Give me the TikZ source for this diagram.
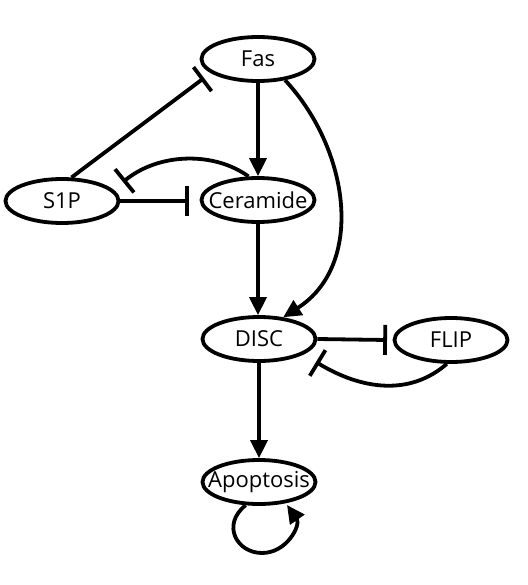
\documentclass[tikz,border=0pt]{standalone}
\usepackage{fontspec}
\setmainfont{Open Sans}
\usetikzlibrary{arrows.meta,shapes.geometric}
\begin{document}
\begin{tikzpicture}[x=1pt,y=-1pt,
  gene/.style={ellipse, draw, line width=3.8pt, minimum width=113pt, minimum height=44pt, inner sep=0pt,
    label={[font=\fontsize{22}{24}\selectfont, inner sep=0pt]center:#1}},
  edge/.style={line width=3.8pt},
  act/.style={edge, -{Triangle[length=18pt,width=17pt]}},
  inh/.style={edge, -{Bar[width=30pt,line width=3.8pt]}}]
\useasboundingbox (0,0) rectangle (527,585);
\node[gene=Fas] (fas) at (258,59) {};
\node[gene=S1P] (s1p) at (62,201) {};
\node[gene=Ceramide] (cer) at (258,200) {};
\node[gene=DISC] (disc) at (259,339) {};
\node[gene=FLIP] (flip) at (451,340) {};
\node[gene=Apoptosis] (apo) at (259,482) {};
\coordinate (fasin) at (204,78);
\coordinate (s1pin) at (123,182);
\coordinate (cerin) at (189,201);
\coordinate (flipin) at (387,340);
\coordinate (discin) at (316,362);
\coordinate (apoin) at (287,505);
\draw[act] (fas) -- (cer);
\draw[act] (cer.south) -- (cer.south |- disc.north);
\draw[act] (disc) -- (apo);
\draw[act] (fas.-38) .. controls (350,150) and (365,265) .. (disc.42);
\draw[inh] (s1p.68) -- (fasin);
\draw[inh] (cer.112) .. controls (215,152) and (160,152) .. (s1pin);
\draw[inh] (s1p.east) -- (cerin);
\draw[inh] (disc.east) -- (flipin);
\draw[inh] (flip.-100) .. controls (410,396) and (362,390) .. (discin);
\draw[act] (apo.-120) .. controls (221,525) and (237,553) .. (262,553)
  .. controls (287,553) and (301,525) .. (apoin);
\end{tikzpicture}
\end{document}
